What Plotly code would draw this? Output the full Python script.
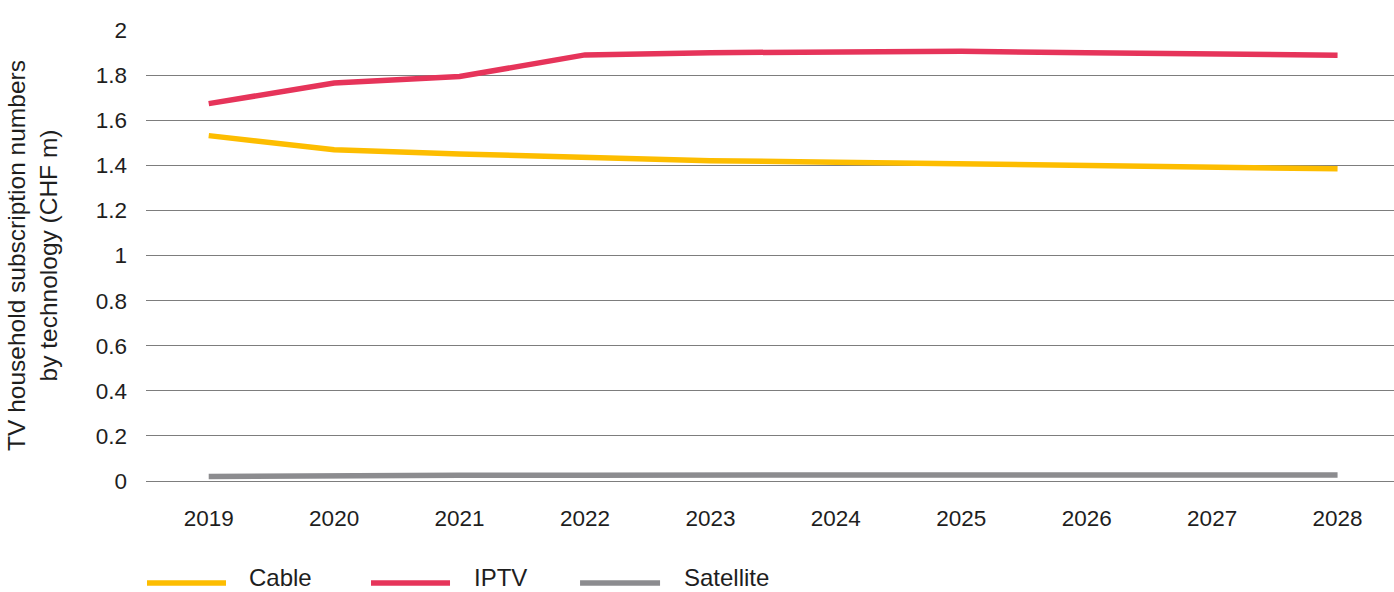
import plotly.graph_objects as go

years = ["2019", "2020", "2021", "2022", "2023", "2024", "2025", "2026", "2027", "2028"]
cable = [1.532, 1.469, 1.451, 1.435, 1.421, 1.414, 1.407, 1.400, 1.388, 1.385]
iptv = [1.674, 1.765, 1.794, 1.890, 1.900, 1.901, 1.906, 1.900, 1.895, 1.889]
satellite = [0.020, 0.026, 0.026, 0.026, 0.026, 0.026, 0.026, 0.026, 0.026, 0.027]
y_ticks = [0, 0.2, 0.4, 0.6, 0.8, 1, 1.2, 1.4, 1.6, 1.8, 2]

series = [
    ("Cable", cable, "#FDBD00"),
    ("IPTV", iptv, "#E6345A"),
    ("Satellite", satellite, "#8C8C8F"),
]

FONT = "Liberation Sans, Arial, sans-serif"
TEXT = "#1e1e1e"

fig = go.Figure()
for name, vals, color in series:
    fig.add_trace(go.Scatter(
        x=list(range(len(years))), y=vals, name=name, mode="lines",
        line=dict(color=color, width=5.5), showlegend=False,
    ))

# hand-placed legend below the plot: long colour bars followed by labels
legend_pos = [(0.0008, 0.0641, 0.0817), (0.1803, 0.2436, 0.2620), (0.3478, 0.4119, 0.4303)]
line_y = -0.2262
text_y = -0.2460
for (name, _, color), (x0, x1, tx) in zip(series, legend_pos):
    fig.add_shape(type="line", xref="paper", yref="paper", x0=x0, x1=x1, y0=line_y, y1=line_y,
                  line=dict(color=color, width=5.5))
    fig.add_annotation(xref="paper", yref="paper", x=tx, y=text_y, text=name, showarrow=False,
                       xanchor="left", yanchor="bottom", borderpad=0,
                       font=dict(family=FONT, size=24, color=TEXT))

fig.update_layout(
    width=1394, height=592,
    margin=dict(l=146, r=0, t=30, b=111),
    paper_bgcolor="white", plot_bgcolor="white",
    font=dict(family=FONT, size=22.5, color=TEXT),
    xaxis=dict(
        range=[-0.5, 9.45], tickmode="array", tickvals=list(range(len(years))), ticktext=years,
        showgrid=False, zeroline=False, showline=False, ticks="", ticklabelstandoff=21,
        tickfont=dict(family=FONT, size=22.5, color=TEXT),
    ),
    yaxis=dict(
        range=[0, 2.0005], tickmode="array", tickvals=y_ticks,
        ticktext=[f"{v:g}" for v in y_ticks],
        showgrid=True, gridcolor="#7d7d7d", gridwidth=1,
        zeroline=True, zerolinecolor="#7d7d7d", zerolinewidth=1,
        showline=False, ticks="", ticklabelstandoff=18,
        tickfont=dict(family=FONT, size=22.5, color=TEXT),
        title=dict(text="TV household subscription numbers<br>by technology (CHF m)",
                   font=dict(family=FONT, size=24.5, color=TEXT), standoff=31),
    ),
)

fig.write_html("out.html")
